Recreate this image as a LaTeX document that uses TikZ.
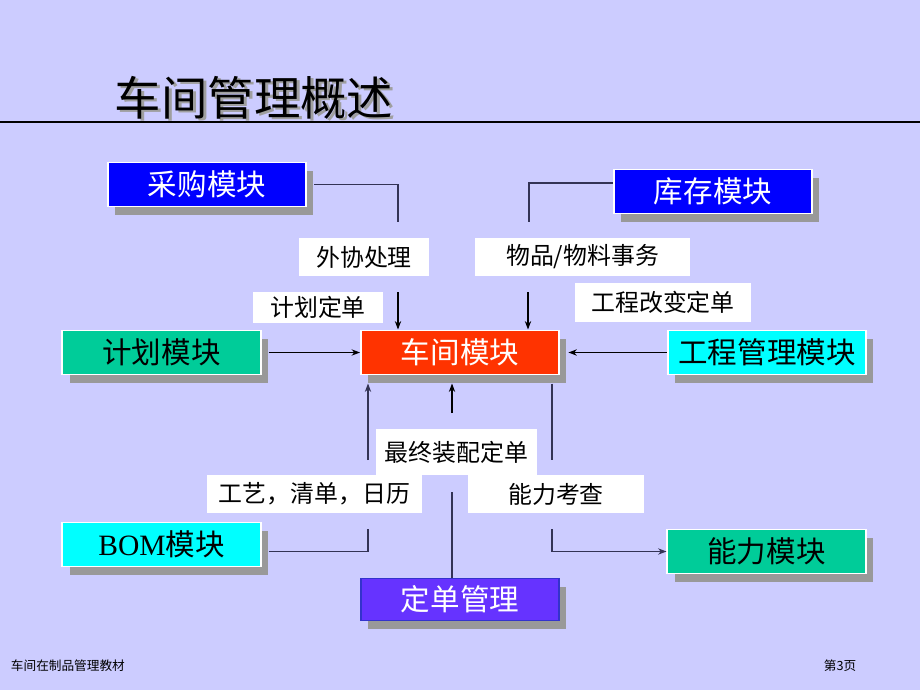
\documentclass[tikz,border=0pt]{standalone}
\usepackage{fontspec}
\setmainfont{Noto Sans CJK SC}
\newfontfamily\latinserif{Liberation Serif}
\usepackage{tikz}
\usetikzlibrary{positioning,arrows.meta,shadows}
\usepackage{xcolor}
\definecolor{bgviolet}{HTML}{CCCCFF}
\definecolor{modblue}{HTML}{0000FF}
\definecolor{modgreen}{HTML}{00CC99}
\definecolor{modred}{HTML}{FF3300}
\definecolor{modcyan}{HTML}{00FFFF}
\definecolor{modpurple}{HTML}{6633FF}
\definecolor{modedge}{HTML}{3333CC}
\definecolor{shadowgray}{HTML}{999999}
\definecolor{linkgray}{HTML}{333355}

\begin{document}
\begin{tikzpicture}[x=0.025cm, y=-0.025cm,
    module/.style={draw=white, line width=1.4pt, minimum width=4.95cm, minimum height=1.1cm,
        inner sep=0pt, font=\fontsize{21}{24}\selectfont,
        general shadow={fill=shadowgray, shadow xshift=5pt, shadow yshift=-5.7pt}},
    tag/.style={fill=white, inner sep=0pt, font=\fontsize{17}{20}\selectfont},
    link/.style={draw=linkgray, line width=0.9pt},
    arr/.style={-{Stealth[length=6pt,width=4.5pt]}, line width=0.8pt}]

    % background and title
    \fill[bgviolet] (0,0) rectangle (920,690);
    \useasboundingbox (0,0) rectangle (920,690);
    \node[font=\fontsize{33}{36}\selectfont, text=gray!75] (titleshade) at (257,100) {车间管理概述};
    \node[font=\fontsize{33}{36}\selectfont] (title) at (254,98) {车间管理概述};
    \draw[line width=1.1pt] (0,122) coordinate (ruleL) -- (920,122) coordinate (ruleR);

    % 1. modules
    \node[module, fill=modblue, text=white] (caigou) at (207,184.5) {采购模块};
    \node[module, fill=modblue, text=white] (kucun) at (713,191.5) {库存模块};
    \node[module, fill=modgreen] (jihua) at (161.5,352.5) {计划模块};
    \node[module, fill=modred, text=white] (chejian) at (460,352.5) {车间模块};
    \node[module, fill=modcyan] (gongcheng) at (767,352.5) {工程管理模块};
    \node[module, fill=modcyan] (bom) at (161.5,544.5) {{\latinserif BOM}模块};
    \node[module, fill=modpurple, draw=modedge, text=white, minimum height=1.05cm] (dingdan) at (460,599.5) {定单管理};
    \node[module, fill=modgreen] (nengli) at (766.5,551.5) {能力模块};

    % 2. labels
    \node[tag, minimum width=3.25cm, minimum height=0.95cm] (waixie) at (364,257) {外协处理};
    \node[tag, minimum width=5.38cm, minimum height=0.95cm] (wupin) at (582.5,257) {物品/物料事务};
    \node[tag, minimum width=3.25cm, minimum height=0.78cm] (jhdd) at (318,307.5) {计划定单};
    \node[tag, minimum width=4.4cm, minimum height=0.97cm] (gcbg) at (663,302.5) {工程改变定单};
    \node[tag, minimum width=4.03cm, minimum height=1.15cm] (zzzp) at (456.5,452) {最终装配定单};
    \node[tag, minimum width=5.38cm, minimum height=0.95cm] (gyqd) at (314.5,494) {工艺，清单，日历};
    \node[tag, minimum width=4.4cm, minimum height=0.95cm] (nlkc) at (556,494) {能力考查};

    % 3. connectors
    \coordinate (waixieTop) at (398,222);
    \coordinate (waixieIn) at (398,292);
    \coordinate (wupinTop) at (529,222);
    \coordinate (wupinIn) at (528,292);
    \coordinate (chejianLow) at ([yshift=-5.7pt]chejian.south);
    \coordinate (gyUp) at (368,460);
    \coordinate (zzUp) at (452,413);
    \coordinate (nlDown) at (552,460);
    \coordinate (bomUp) at (368,529);
    \coordinate (ddUp) at (452,492);
    \coordinate (nlOut) at (552,529);

    \draw[link] ([xshift=5pt]caigou.east) -| (waixieTop);
    \draw[arr] (waixieIn) -- (waixieIn |- chejian.north);
    \draw[link] ([yshift=6pt]kucun.west) -| (wupinTop);
    \draw[arr] (wupinIn) -- (wupinIn |- chejian.north);
    \draw[arr] ([xshift=5pt]jihua.east) -- (chejian.west);
    \draw[arr] (gongcheng.west) -- ([xshift=6pt]chejian.east);
    \draw[arr, draw=linkgray] (gyUp) -- (gyUp |- chejianLow);
    \draw[arr] (zzUp) -- (zzUp |- chejianLow);
    \draw[link] (nlDown |- chejianLow) -- (nlDown);
    \draw[link] ([xshift=5pt,yshift=-5pt]bom.east) -| (bomUp);
    \draw[link] (ddUp |- dingdan.north) -- (ddUp);
    \draw[link, arr] (nlOut) |- (nengli.west);

    % footer
    \node[anchor=west, font=\fontsize{9}{11}\selectfont] (footL) at (6,666) {车间在制品管理教材};
    \node[anchor=west, font=\fontsize{9}{11}\selectfont] (footR) at (819,666) {第3页};
\end{tikzpicture}
\end{document}
